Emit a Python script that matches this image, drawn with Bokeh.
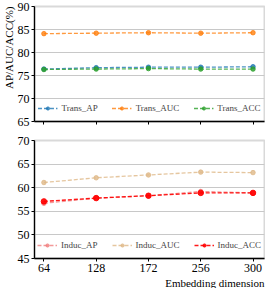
from bokeh.plotting import figure
from bokeh.layouts import column
from bokeh.models import Range1d, FixedTicker, Legend, LegendItem, Title
from bokeh.embed import file_html
from bokeh.resources import INLINE

dims = ["64", "128", "172", "256", "300"]
trans_ap = [76.4, 76.7, 76.8, 76.8, 76.9]
trans_auc = [84.1, 84.2, 84.3, 84.2, 84.3]
trans_acc = [76.3, 76.4, 76.5, 76.4, 76.4]
induc_ap = [56.7, 57.8, 58.3, 59.2, 58.9]
induc_auc = [61.1, 62.1, 62.7, 63.3, 63.2]
induc_acc = [57.1, 57.8, 58.3, 58.9, 58.9]
top_ticks = [65, 70, 75, 80, 85, 90]
bot_ticks = [45, 50, 55, 60, 65, 70]

FONT = "Liberation Serif"
xs = list(range(len(dims)))


def make_fig(height, yticks, show_xlabels, border_top, border_bottom, ylabel):
    p = figure(width=265, height=height, output_backend="svg", toolbar_location=None,
               x_range=Range1d(-0.18, len(dims) - 1 + 0.22),
               y_range=Range1d(yticks[0], yticks[-1]),
               min_border_left=4, min_border_right=1, min_border_top=border_top,
               min_border_bottom=border_bottom)
    p.outline_line_color = "#d9d9d9"
    p.outline_line_width = 2
    p.background_fill_color = "white"
    p.border_fill_color = "white"
    p.xgrid.visible = False
    p.ygrid.grid_line_color = "#c8c8c8"
    p.ygrid.grid_line_width = 1.2
    p.ygrid.ticker = FixedTicker(ticks=yticks)
    p.yaxis.ticker = FixedTicker(ticks=yticks)
    p.xaxis.ticker = FixedTicker(ticks=xs)
    if show_xlabels:
        p.xaxis.major_label_overrides = {i: d for i, d in enumerate(dims)}
    else:
        p.xaxis.major_label_overrides = {i: "" for i in xs}
    for ax in (p.xaxis[0], p.yaxis[0]):
        ax.axis_line_color = "black"
        ax.axis_line_width = 1.3
        ax.major_tick_line_color = "black"
        ax.major_tick_in = 0
        ax.major_tick_out = 3
        ax.minor_tick_line_color = None
        ax.major_label_text_font = FONT
        ax.major_label_text_font_size = "12px"
        ax.major_label_text_color = "black"
        ax.major_label_standoff = 2
    if not show_xlabels:
        p.xaxis.major_label_standoff = 0
    t = Title(text=ylabel, align="right", text_font=FONT, text_font_size="11px",
              text_font_style="normal", text_color="black", standoff=0, offset=0)
    p.add_layout(t, "left")
    return p


def add_series(p, vals, color, label, alpha=0.8, size=4.5):
    r1 = p.line(xs, vals, line_color=color, line_width=1.3, line_dash="4 2", line_alpha=alpha)
    r2 = p.scatter(xs, vals, size=size, fill_color=color, line_color=color,
                   fill_alpha=alpha, line_alpha=alpha)
    return LegendItem(label=label, renderers=[r1, r2])


def add_legend(p, items):
    lg = Legend(items=items, orientation="horizontal", location="bottom_center",
                background_fill_alpha=0, border_line_alpha=0,
                label_text_font=FONT, label_text_font_size="9px",
                glyph_width=20, glyph_height=8, label_standoff=4, spacing=14,
                margin=4, padding=4)
    p.add_layout(lg, "center")


p1 = make_fig(130, top_ticks, False, 6, 9, "AP/AUC/ACC(%)")
items1 = [add_series(p1, trans_ap, "#1f77b4", "Trans_AP"),
          add_series(p1, trans_auc, "#ff7f0e", "Trans_AUC"),
          add_series(p1, trans_acc, "#2ca02c", "Trans_ACC")]
add_legend(p1, items1)

p2 = make_fig(158, bot_ticks, True, 10, 4, " ")
items2 = [add_series(p2, induc_ap, "#f08080", "Induc_AP"),
          add_series(p2, induc_auc, "#deb887", "Induc_AUC"),
          add_series(p2, induc_acc, "#ff0000", "Induc_ACC", alpha=0.9, size=5.5)]
add_legend(p2, items2)
xt = Title(text="Embedding dimension", align="right", text_font=FONT, text_font_size="11px",
           text_font_style="normal", text_color="black", standoff=0, offset=0)
p2.add_layout(xt, "below")

layout = column(p1, p2, spacing=0)
open("out.html", "w").write(file_html(layout, INLINE))
